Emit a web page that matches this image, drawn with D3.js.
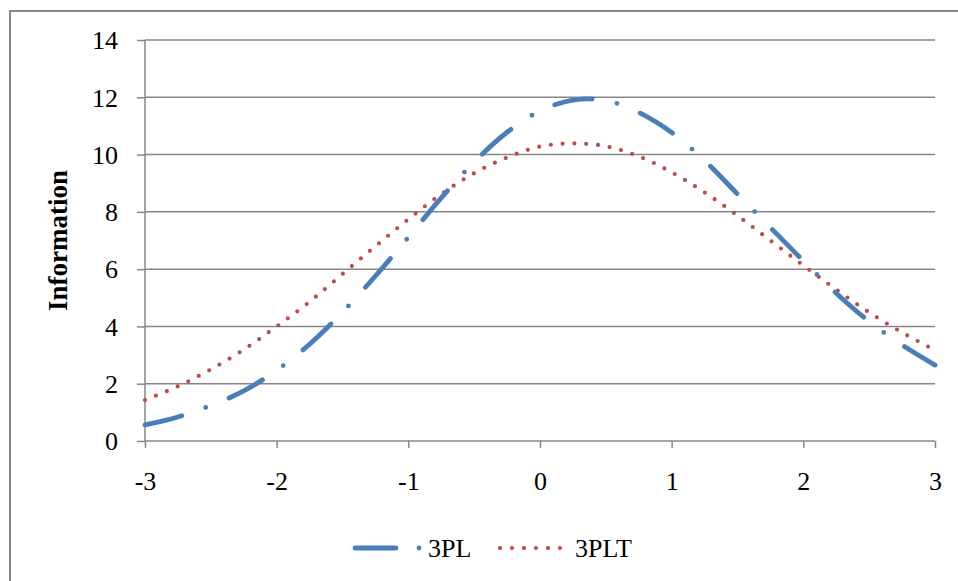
<!DOCTYPE html>
<html>
<head>
<meta charset="utf-8">
<script src="https://cdn.jsdelivr.net/npm/d3@7"></script>
<style>
  body { margin: 0; background: #fff; }
  svg { display: block; }
  text { font-family: "Liberation Serif", "Times New Roman", serif; fill: #000; }
</style>
</head>
<body>
<svg id="chart"></svg>
<script>
const width = 958;
const height = 581;

// theta values and information for the two models
const theta = [-3, -2.75, -2.5, -2.25, -2, -1.75, -1.5, -1.25, -1, -0.75, -0.5, -0.25,
  0, 0.25, 0.5, 0.75, 1, 1.25, 1.5, 1.75, 2, 2.25, 2.5, 2.75, 3];
const info3PL = [0.56, 0.84, 1.24, 1.75, 2.47, 3.38, 4.50, 5.76, 7.11, 8.49, 9.74, 10.78,
  11.52, 11.90, 11.89, 11.47, 10.77, 9.79, 8.62, 7.45, 6.29, 5.16, 4.17, 3.35, 2.65];
const info3PLT = [1.43, 1.91, 2.50, 3.19, 4.00, 4.86, 5.83, 6.80, 7.74, 8.62, 9.35, 9.90,
  10.28, 10.39, 10.29, 9.94, 9.38, 8.68, 7.87, 7.00, 6.13, 5.29, 4.49, 3.79, 3.17];
const xTicks = [-3, -2, -1, 0, 1, 2, 3];
const yTicks = [0, 2, 4, 6, 8, 10, 12, 14];
const seriesNames = ['3PL', '3PLT'];

const plotLeft = 145, plotRight = 935, plotTop = 40, plotBottom = 441;
const gridColor = '#878787';
const blue = '#4a7ebb';
const red = '#be4b48';

const svg = d3.select('#chart')
    .attr('width', width)
    .attr('height', height);

// outer chart border
svg.append('rect')
    .attr('x', 10).attr('y', 11)
    .attr('width', 1000).attr('height', 1000)
    .attr('fill', 'none')
    .attr('stroke', gridColor)
    .attr('stroke-width', 2);

const x = d3.scaleLinear().domain([-3, 3]).range([plotLeft, plotRight]);
const y = d3.scaleLinear().domain([0, 14]).range([plotBottom, plotTop]);

// horizontal grid
svg.append('g')
    .selectAll('line')
    .data(yTicks.filter(d => d > 0))
    .enter().append('line')
    .attr('x1', plotLeft).attr('x2', plotRight)
    .attr('y1', d => y(d)).attr('y2', d => y(d))
    .attr('stroke', gridColor)
    .attr('stroke-width', 1.5);

const yAxis = svg.append('g')
    .attr('transform', `translate(${plotLeft}, 0)`)
    .call(d3.axisLeft(y).tickValues(yTicks).tickSize(8).tickPadding(19));

const xAxis = svg.append('g')
    .attr('transform', `translate(0, ${plotBottom})`)
    .call(d3.axisBottom(x).tickValues(xTicks).tickSize(7).tickPadding(24)
        .tickFormat(d3.format('d')));

[yAxis, xAxis].forEach(a => {
    a.select('.domain').attr('stroke', gridColor).attr('stroke-width', 1.5);
    a.selectAll('.tick line').attr('stroke', gridColor).attr('stroke-width', 1.5);
    a.selectAll('text')
        .style('font-family', '"Liberation Serif", serif')
        .style('font-size', '26px')
        .attr('fill', '#000');
});
yAxis.select('.domain').attr('d', `M0,${plotTop}V${plotBottom}`);
xAxis.select('.domain').attr('d', `M${plotLeft},0H${plotRight}`);
yAxis.selectAll('.tick text').attr('dy', '0.34em');
xAxis.selectAll('.tick text').attr('dy', '0.7em');
xAxis.selectAll('.tick text').text(d => d < 0 ? '-' + Math.abs(d) : d);

svg.append('text')
    .attr('transform', `translate(67, ${(plotTop + plotBottom) / 2}) rotate(-90)`)
    .attr('text-anchor', 'middle')
    .style('font-size', '27px')
    .style('font-weight', 'bold')
    .text('Information');

const line = d3.line()
    .x(d => x(d[0]))
    .y(d => y(d[1]))
    .curve(d3.curveCatmullRom.alpha(0.5));

svg.append('path')
    .datum(theta.map((t, i) => [t, info3PLT[i]]))
    .attr('fill', 'none')
    .attr('stroke', red)
    .attr('stroke-width', 4.2)
    .attr('stroke-linecap', 'round')
    .attr('stroke-dasharray', '0 11.8')
    .attr('d', line);

svg.append('path')
    .datum(theta.map((t, i) => [t, info3PL[i]]))
    .attr('fill', 'none')
    .attr('stroke', blue)
    .attr('stroke-width', 4.8)
    .attr('stroke-linecap', 'round')
    .attr('stroke-dasharray', '38 25.25 0 25.25')
    .attr('d', line);

// legend
const legendY = 548;
const legend = svg.append('g');
legend.append('path')
    .attr('d', `M355,${legendY}H425`)
    .attr('stroke', blue)
    .attr('stroke-width', 4.8)
    .attr('stroke-linecap', 'round')
    .attr('stroke-dasharray', '41 23 0 100');
legend.append('text')
    .attr('x', 428).attr('y', legendY + 9)
    .style('font-size', '26px')
    .text(seriesNames[0]);
legend.append('path')
    .attr('d', `M500,${legendY}H561`)
    .attr('stroke', red)
    .attr('stroke-width', 4.2)
    .attr('stroke-linecap', 'round')
    .attr('stroke-dasharray', '0 12');
legend.append('text')
    .attr('x', 575).attr('y', legendY + 9)
    .style('font-size', '26px')
    .text(seriesNames[1]);
</script>
</body>
</html>
